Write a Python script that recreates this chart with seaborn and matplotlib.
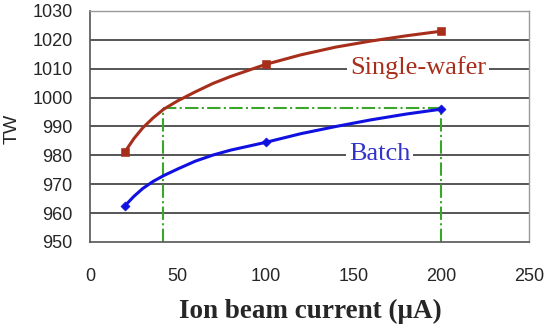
import numpy as np
import pandas as pd
import matplotlib
matplotlib.use("Agg")
import matplotlib.pyplot as plt
import seaborn as sns

# measured points
current = [20, 100, 200]
tw_single = [981.3, 1011.5, 1023.0]
tw_batch = [962.6, 984.5, 996.0]

# trend curves
curve_x = [20, 25, 30, 36, 42, 50, 60, 70, 80, 100, 120, 140, 160, 180, 200]
curve_single = [981.3, 985.8, 989.5, 993.0, 996.0, 998.9, 1002.0, 1004.9, 1007.3,
                1011.5, 1014.8, 1017.5, 1019.6, 1021.4, 1023.0]
curve_batch = [962.6, 965.8, 968.5, 971.0, 973.0, 975.3, 978.0, 980.1, 981.8,
               984.5, 987.5, 990.0, 992.3, 994.3, 996.0]

# guide lines
guide_x = [41.7, 200]
guide_y = 996.5

x_ticks = [0, 50, 100, 150, 200, 250]
y_ticks = [950, 960, 970, 980, 990, 1000, 1010, 1020, 1030]

red = "#a82e1c"
blue = "#1010e0"
green = "#3aa62a"

sns.set_theme(style="white")
plt.rcParams["font.family"] = ["Liberation Sans", "DejaVu Sans"]

fig = plt.figure(figsize=(5.5, 3.31), dpi=100)
ax = fig.add_axes([0.1636, 0.2689, 0.7982, 0.6979])

pts = pd.DataFrame({"x": current * 2,
                    "y": tw_single + tw_batch,
                    "s": ["Single-wafer"] * 3 + ["Batch"] * 3})
crv = pd.DataFrame({"x": curve_x * 2,
                    "y": curve_single + curve_batch,
                    "s": ["Single-wafer"] * len(curve_x) + ["Batch"] * len(curve_x)})
pal = {"Single-wafer": red, "Batch": blue}

for yv in y_ticks[1:-1]:
    ax.axhline(yv, color="#555555", lw=1.4, zorder=1)

sns.lineplot(data=crv, x="x", y="y", hue="s", palette=pal, lw=2.2,
             legend=False, ax=ax, zorder=3)
sns.scatterplot(data=pts[pts.s == "Single-wafer"], x="x", y="y", color=red,
                marker="s", s=30, edgecolor=red, legend=False, ax=ax, zorder=4)
sns.scatterplot(data=pts[pts.s == "Batch"], x="x", y="y", color=blue,
                marker="D", s=22, edgecolor=blue, legend=False, ax=ax, zorder=4)

# dash-dot guides
ax.plot(guide_x, [guide_y, guide_y], color=green, lw=1.5, ls="-.", zorder=2)
for gx in guide_x:
    ax.plot([gx, gx], [950, guide_y], color=green, lw=1.5, ls="-.", zorder=2)

ax.text(187, 1010.3, "Single-wafer", color=red, fontsize=19, ha="center", va="center",
        family="Liberation Serif",
        bbox=dict(facecolor="white", edgecolor="none", pad=2), zorder=5)
ax.text(165, 980.5, "Batch", color="#3333c8", fontsize=19, ha="center", va="center",
        family="Liberation Serif",
        bbox=dict(facecolor="white", edgecolor="none", pad=2), zorder=5)

ax.set_xlim(0, 250)
ax.set_ylim(950, 1030)
ax.set_xticks(x_ticks)
ax.set_yticks(y_ticks)
ax.tick_params(axis="x", direction="in", length=5, width=1, pad=19,
               labelsize=13, color="#333333")
ax.tick_params(axis="y", direction="in", length=2, width=1, pad=12.5,
               labelsize=13, color="#333333")

for side in ["top", "right"]:
    ax.spines[side].set_color("#999999")
    ax.spines[side].set_linewidth(1.0)
for side in ["left", "bottom"]:
    ax.spines[side].set_color("#555555")
    ax.spines[side].set_linewidth(1.2)

ax.set_xlabel("Ion beam current (μA)", fontsize=19.5, fontweight="bold",
              family="Liberation Serif")
ax.xaxis.set_label_coords(0.502, -0.245)
ax.set_ylabel("TW", fontsize=14)
ax.yaxis.set_label_coords(-0.158, 0.49)

fig.savefig("out.png", dpi=100)
